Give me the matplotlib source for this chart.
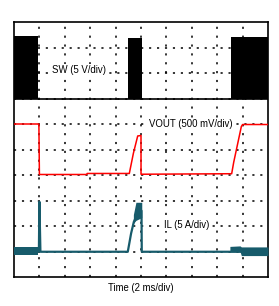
import numpy as np
import matplotlib
matplotlib.use("Agg")
import matplotlib.pyplot as plt

#scope capture, 10 x 10 divisions, time in divisions (2 ms/div)
#SW switching bursts: start, end, top level (div)
sw_start = [0.0, 4.50, 8.55]
sw_end = [0.96, 5.03, 10.0]
sw_top = [9.45, 9.37, 9.42]
sw_low = 6.98

#VOUT trace (div)
vout_t = [0.0, 0.98, 1.0, 2.86, 2.88, 4.54, 4.70, 4.87, 5.0, 5.001, 8.57, 8.65, 8.80, 8.95, 9.0, 10.0]
vout_v = [6.0, 6.0, 4.02, 4.02, 4.06, 4.06, 4.85, 5.53, 5.55, 4.03, 4.05, 4.5, 5.2, 5.9, 5.98, 5.98]

#IL trace (div)
il_t = [0.0, 0.96, 0.98, 1.0, 1.04, 4.48, 4.61, 4.72, 4.85, 5.02, 5.03, 10.0]
il_v = [1.0, 1.0, 1.0, 2.95, 0.99, 0.99, 1.71, 2.17, 2.45, 2.6, 0.99, 0.99]

#IL ripple envelopes
il_b1_t = [0.0, 0.96]
il_b1_lo = [0.85, 0.85]
il_b1_hi = [1.17, 1.17]
il_b2_t = [4.70, 4.80, 5.03]
il_b2_lo = [2.10, 2.22, 2.33]
il_b2_hi = [2.45, 2.93, 2.93]
il_b3_t = [8.50, 8.90, 8.95, 10.0]
il_b3_lo = [0.99, 0.99, 0.84, 0.84]
il_b3_hi = [1.2, 1.22, 1.18, 1.18]

teal = '#175b6b'
red = '#ff0000'

fig = plt.figure(figsize=(2.79, 3.06), dpi=100)
ax = fig.add_axes([14/279, 29/306, 254/279, 255/306])
ax.set_xlim(0, 10)
ax.set_ylim(0, 10)

#dotted grid
for k in range(1, 10):
    ax.axvline(k, color='black', lw=1.1, linestyle=(0, (1.4, 4.4)), zorder=1)
    ax.axhline(k, color='black', lw=1.1, linestyle=(0, (1.4, 3.8)), zorder=1)

#SW
ax.plot([0, 10], [sw_low + 0.02, sw_low + 0.02], color='black', lw=1.2, zorder=3)
for s, e, top in zip(sw_start, sw_end, sw_top):
    ax.fill_between([s, e], [sw_low, sw_low], [top, top], color='black', lw=0, zorder=3)

#VOUT
ax.plot(vout_t, vout_v, color=red, lw=1.1, zorder=4)

#IL
ax.plot(il_t, il_v, color=teal, lw=1.6, zorder=4)
ax.fill_between(il_b1_t, il_b1_lo, il_b1_hi, color=teal, lw=0, zorder=4)
ax.fill_between(il_b2_t, il_b2_lo, il_b2_hi, color=teal, lw=0, zorder=4)
ax.fill_between(il_b3_t, il_b3_lo, il_b3_hi, color=teal, lw=0, zorder=4)

#labels
box = dict(facecolor='white', edgecolor='none', pad=1.0)
fs = 6.9
ax.text(2.56, 8.12, 'SW (5 V/div)', fontsize=fs, family='Liberation Sans',
        ha='center', va='center', bbox=box, zorder=5)
ax.text(6.97, 6.0, 'VOUT (500 mV/div)', fontsize=fs, family='Liberation Sans',
        ha='center', va='center', bbox=box, zorder=5)
ax.text(6.79, 2.04, 'IL (5 A/div)', fontsize=fs, family='Liberation Sans',
        ha='center', va='center', bbox=box, zorder=5)
fig.text(140.5/279, 1 - 288/306, 'Time (2 ms/div)', fontsize=fs, family='Liberation Sans',
         ha='center', va='center')

ax.set_xticks([])
ax.set_yticks([])
for sp in ax.spines.values():
    sp.set_linewidth(1.2)

fig.savefig('out.png', dpi=100)
